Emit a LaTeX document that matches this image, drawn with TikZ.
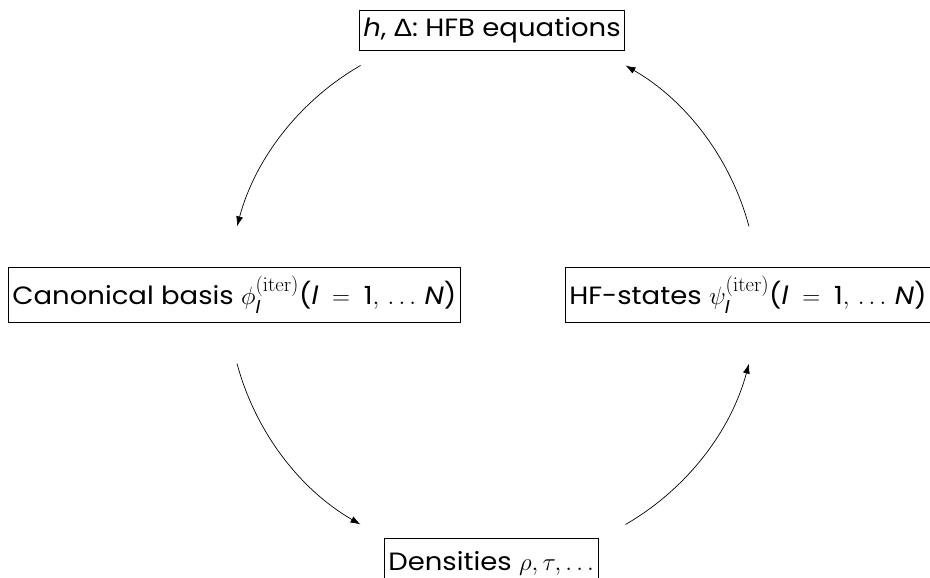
\documentclass[tikz,border=0pt]{standalone}
\usepackage{amsmath}
\usepackage[no-math]{fontspec}
\setmainfont{Poppins}[FakeStretch=1.1]
\newfontfamily\greeksans{Liberation Sans}[FakeStretch=1.1]
\usetikzlibrary{arrows.meta}
\newcommand{\vi}[1]{\textit{#1}}
\newcommand{\itr}{\mbox{\fontsize{22}{22}\selectfont$\mathrm{(iter)}$}}
\newcommand{\rng}{$\mbox{(}\vi{l}\;=\;\mbox{1},\, \ldots\, \vi{N}\mbox{)}$}
\begin{document}
\begin{tikzpicture}[x=1pt,y=1pt,
  box/.style={draw, line width=0.8pt, inner xsep=4pt, inner ysep=0pt,
    font=\fontsize{25}{29}\selectfont},
  cyc/.style={line width=0.7pt, -{Latex[length=10pt,width=7pt]}}]
\useasboundingbox (0,0) rectangle (930,578);
\node[box, minimum height=40pt] (hfb) at (492,548) {\vi{h}, {\greeksans Δ}: HFB equations};
\node[box, minimum height=55pt, anchor=west] (can) at (8,283.5)
  {Canonical basis $\phi_{\vi{l}}^{\itr}$\rng};
\node[box, minimum height=55pt, anchor=east] (hfs) at (931,283.5)
  {HF-states $\psi_{\vi{l}}^{\itr}$\rng};
\node[box, anchor=north west, minimum height=50pt] (den) at (384,40)
  {Densities $\rho,\tau,\ldots$};
\coordinate (c) at (493,283);
\path (c) ++(120:265) coordinate (a1) (c) ++(195:265) coordinate (a2)
      (c) ++(300:265) coordinate (a3) (c) ++(15:265) coordinate (a4);
\draw[cyc] (a1) arc[start angle=120, end angle=165, radius=265];
\draw[cyc] (a2) arc[start angle=195, end angle=240, radius=265];
\draw[cyc] (a3) arc[start angle=300, end angle=345, radius=265];
\draw[cyc] (a4) arc[start angle=15, end angle=60, radius=265];
\end{tikzpicture}
\end{document}
